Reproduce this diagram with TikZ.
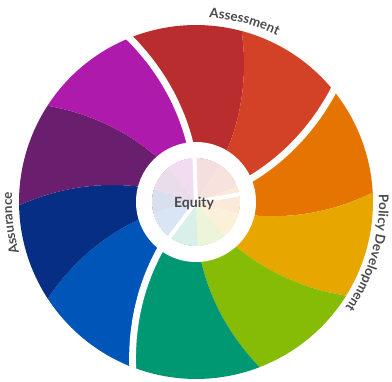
\documentclass[tikz,border=0pt]{standalone}
\usepackage{fontspec}
\setmainfont{Lato}
\usetikzlibrary{decorations.text}

\definecolor{segRed}{HTML}{B92D2E}
\definecolor{segRedOr}{HTML}{D34127}
\definecolor{segOrange}{HTML}{E57500}
\definecolor{segAmber}{HTML}{E7A700}
\definecolor{segLime}{HTML}{86BC06}
\definecolor{segTeal}{HTML}{009873}
\definecolor{segBlue}{HTML}{0055B8}
\definecolor{segNavy}{HTML}{062E84}
\definecolor{segPurple}{HTML}{6A1F6E}
\definecolor{segMagenta}{HTML}{AE1AAC}
\definecolor{txtGray}{HTML}{4A4A4A}

\begin{document}
\begin{tikzpicture}[x=0.025cm, y=0.025cm,
    gap/.style={white, line width=0.17cm},
    spoke/.style={white, line width=0.1cm},
    lbl/.style={decorate, decoration={text along path, text align=center, text color=txtGray}}]
  \useasboundingbox (0,0) rectangle (392,381);
  \begin{scope}[shift={(196,179)}]
    % swirl segments
    \foreach \ta/\tb/\col in {96/59/segRed, 59/23/segRedOr, 23/-13/segOrange, -13/-48/segAmber,
        -48/-85/segLime, -85/-127/segTeal, -127/-163/segBlue, -163/-195/segNavy,
        -195/-229/segPurple, -229/-264/segMagenta} {
      \fill[\col] (0,0)
        -- plot[smooth, variable=\r, domain=40:177, samples=8] ({\ta+(\r-60)*0.137}:\r)
        arc[start angle={\ta+16}, end angle={\tb+16}, radius=177]
        -- plot[smooth, variable=\r, domain=177:40, samples=8] ({\tb+(\r-60)*0.137}:\r)
        -- cycle;
    }
    % ring and pale centre
    \fill[white, even odd rule] (0,0) circle[radius=60] circle[radius=44];
    \fill[white, fill opacity=0.85] (0,0) circle[radius=44];
    % gaps between the three groups
    \foreach \ta/\ts in {96/92, 23/10, -127/-127} {
      \draw[gap] plot[smooth, variable=\r, domain=44:192, samples=8] ({\ta+(\r-60)*0.137}:\r);
      \draw[spoke] (0,0) -- (\ts:46);
    }
    \node[font=\bfseries\fontsize{10}{12}\selectfont, text=txtGray] (equity) at (-2,-1) {Equity};
    % labels round the wheel
    \path[lbl, decoration={text={|\bfseries\fontsize{9.5}{11}\selectfont|Assessment}}]
      (112:185) arc[start angle=112, end angle=38, radius=185];
    \path[lbl, decoration={text={|\bfseries\fontsize{9.5}{11}\selectfont|Policy Development}}]
      (34:183) arc[start angle=34, end angle=-67, radius=183];
    \path[lbl, decoration={text={|\bfseries\fontsize{9.5}{11}\selectfont|Assurance}}]
      (228:184) arc[start angle=228, end angle=145, radius=184];
  \end{scope}
\end{tikzpicture}
\end{document}
